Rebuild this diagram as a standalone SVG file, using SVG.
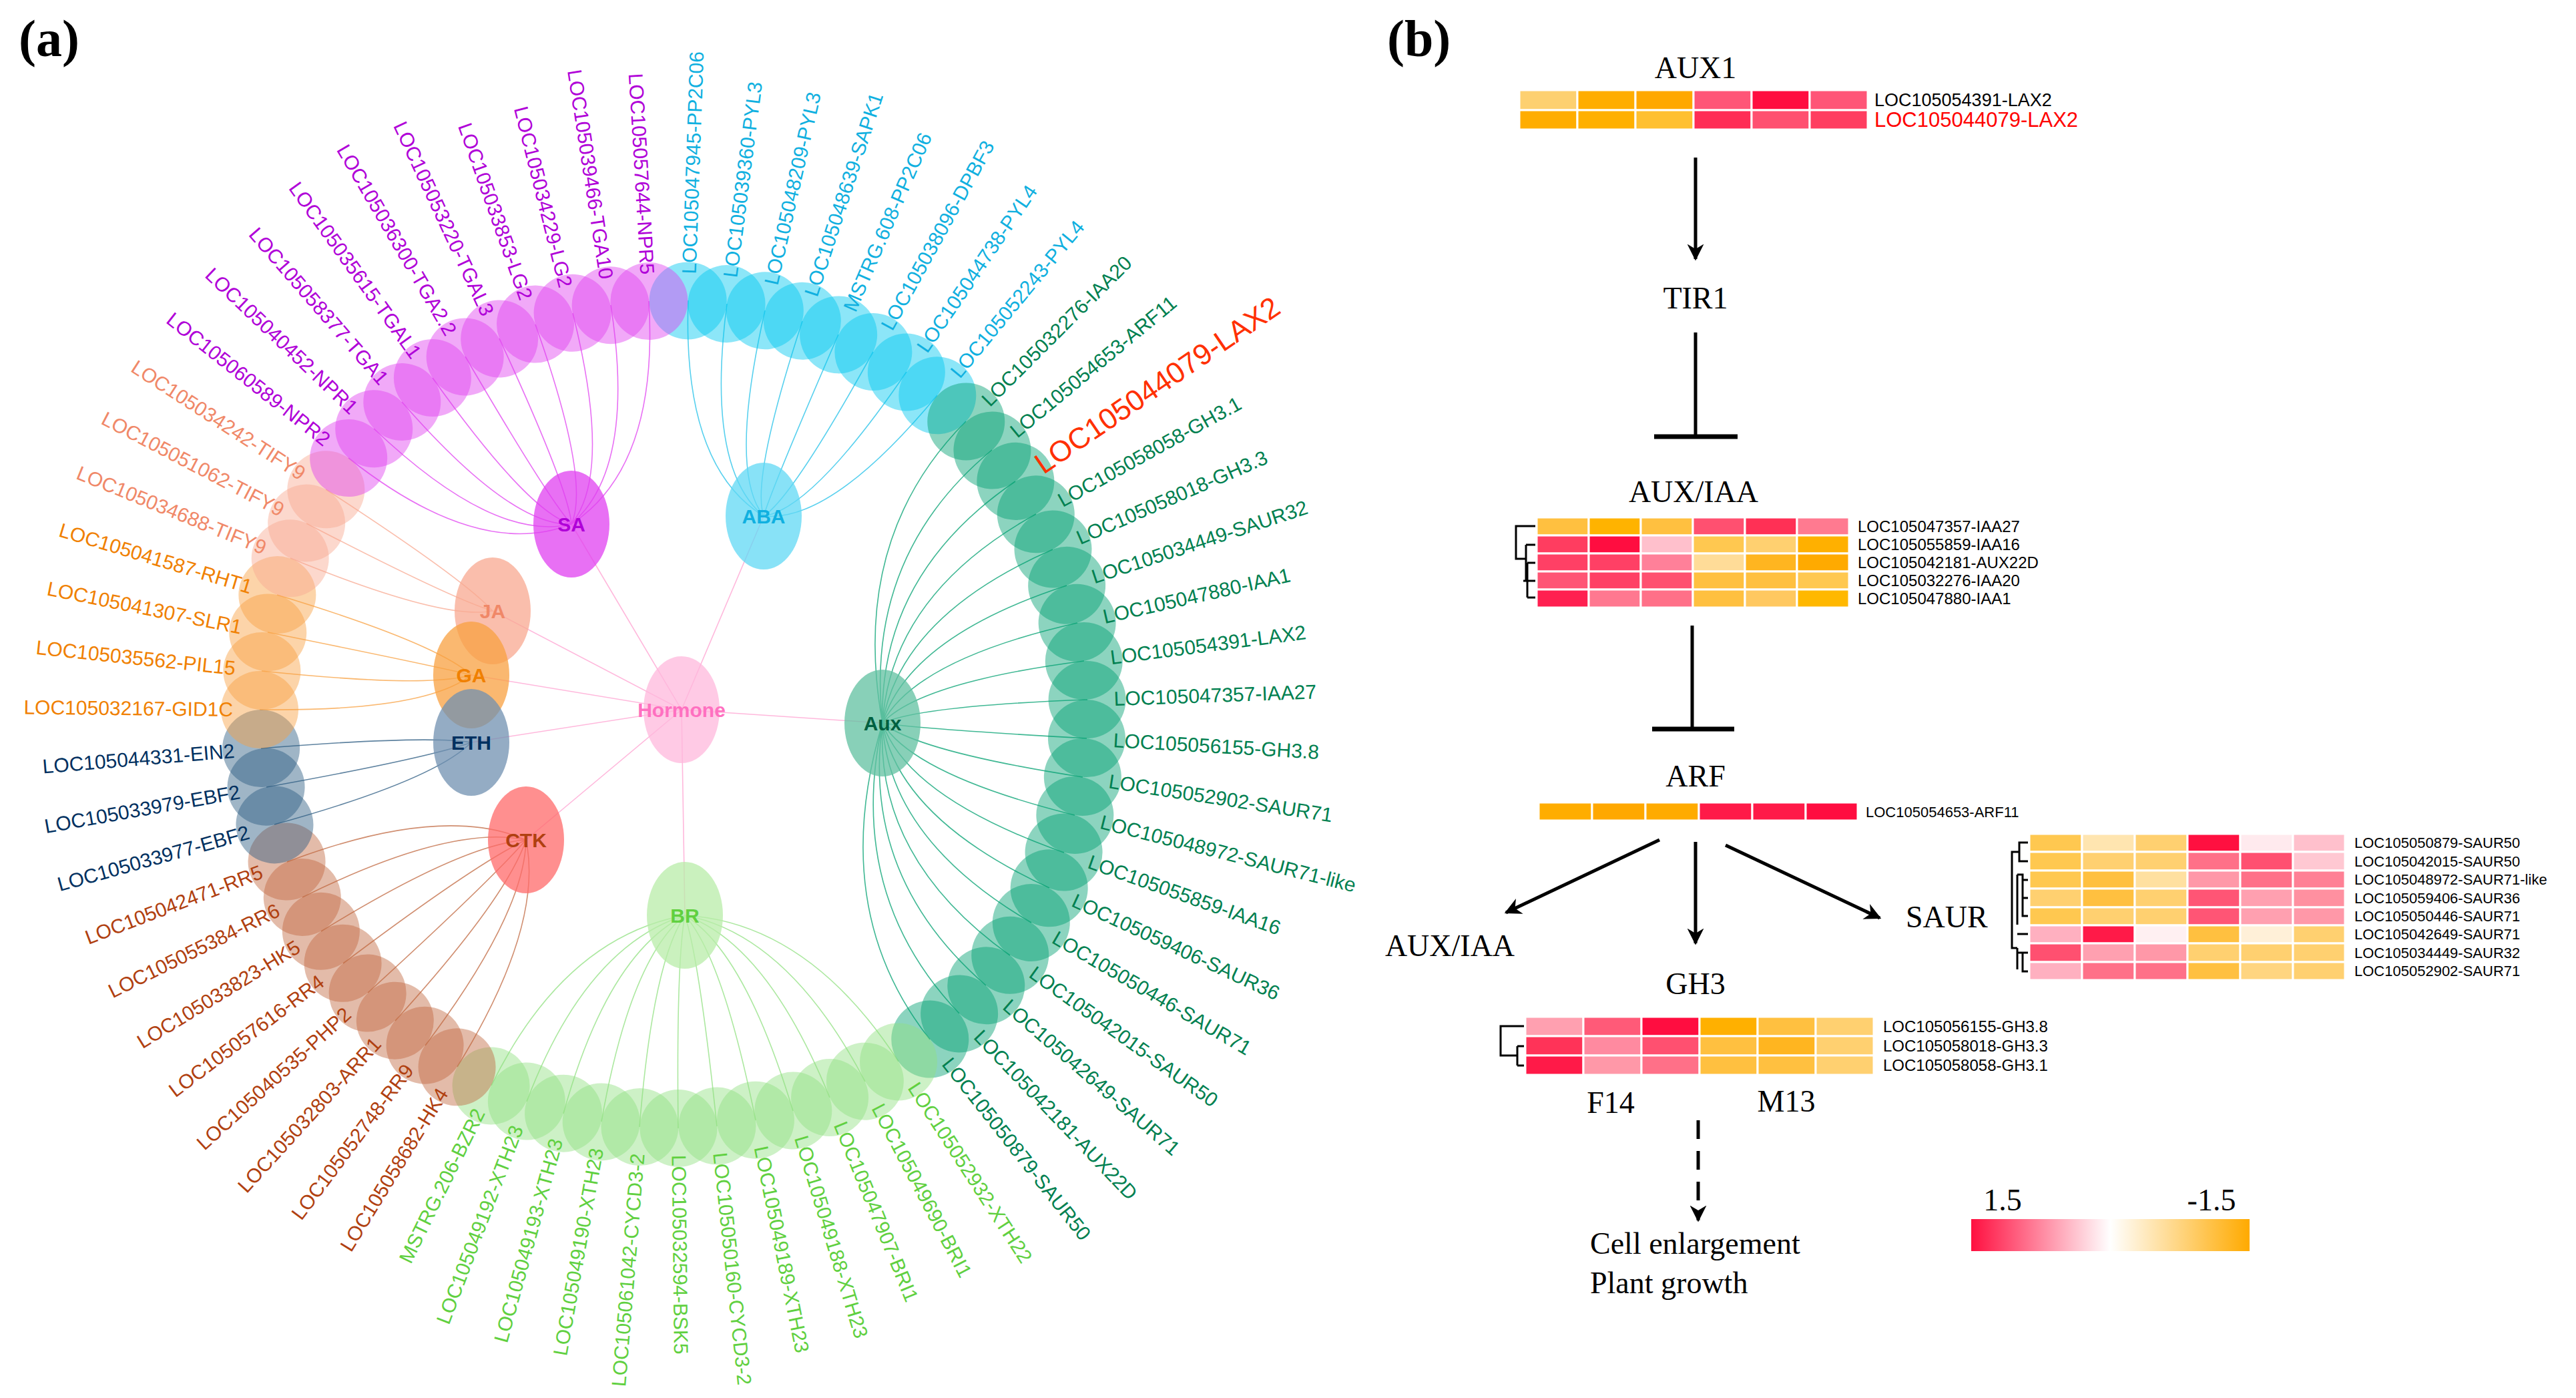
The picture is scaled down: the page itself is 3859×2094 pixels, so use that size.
<svg xmlns="http://www.w3.org/2000/svg" width="3859" height="2094" viewBox="0 0 3859 2094">
<style>
text{font-family:"Liberation Sans",Arial,sans-serif}
.gene text{font-size:30px;dominant-baseline:central}
.gene text.l{text-anchor:end}
.gene ellipse{opacity:0.45}
.hub ellipse{opacity:0.75}
.hub text{font-size:30px;font-weight:bold;text-anchor:middle;dominant-baseline:central}
.aba ellipse{fill:#00c8f0}.aba text{fill:#10b0e0}
.aux ellipse{fill:#00a070}.aux text{fill:#008050}
.br ellipse{fill:#90e080}.br text{fill:#60d040}
.ctk ellipse{fill:#c06840}.ctk text{fill:#b04010}
.eth ellipse{fill:#2a5a80}.eth text{fill:#003060}
.ga ellipse{fill:#f8a040}.ga text{fill:#f08000}
.ja ellipse{fill:#f8a890}.ja text{fill:#f08868}
.sa ellipse{fill:#e040f0}.sa text{fill:#b000d8}
.hm ellipse{fill:#ffb8dc}.hm text{fill:#ff70c0}
#edges path{fill:none;stroke-width:1.6;opacity:0.75}
.e-aba{stroke:#20c0e8}.e-aux{stroke:#00a070}.e-br{stroke:#90e080}.e-ctk{stroke:#c06840}.e-eth{stroke:#2a5a80}.e-ga{stroke:#f8a040}.e-ja{stroke:#f8a890}.e-sa{stroke:#e040f0}.e-hm{stroke:#ffa0d0}
.ser{font-family:"Liberation Serif","Times New Roman",serif;font-size:46px;fill:#000}
.cap{font-family:"Liberation Serif","Times New Roman",serif;font-size:78px;font-weight:bold}
.hm-cells rect{stroke:#fff;stroke-width:3}
.lab{font-size:24px;fill:#000}
.lab2{font-size:22px;fill:#000}
.arr{stroke:#000;stroke-width:5;fill:none}
</style>
<defs>
<marker id="ah" viewBox="0 0 10 10" refX="9" refY="5" markerWidth="5" markerHeight="5" orient="auto"><path d="M0,0 L10,5 L0,10 L3,5 z" fill="#000"/></marker>
<linearGradient id="lg" x1="0" x2="1" y1="0" y2="0"><stop offset="0" stop-color="#ff1040"/><stop offset="0.5" stop-color="#ffffff"/><stop offset="1" stop-color="#ffaa00"/></linearGradient>
</defs>
<rect width="3859" height="2094" fill="#fff"/>
<text class="cap" x="28" y="84">(a)</text>
<text class="cap" x="2078" y="84">(b)</text>

<g id="edges">
<path class="e-hm" d="M1021 1063L856 785M1021 1063L1144 773M1021 1063L738 915M1021 1063L706 1011M1021 1063L706 1112M1021 1063L1322 1083M1021 1063L788 1258M1021 1063L1026 1371"/>
<path class="e-aba" d="M1031 450Q1022 698 1144 773M1089 455Q1057 701 1144 773M1146 465Q1091 707 1144 773M1202 481Q1125 717 1144 773M1256 501Q1157 729 1144 773M1308 527Q1188 744 1144 773M1358 557Q1218 762 1144 773M1404 592Q1246 783 1144 773"/>
<path class="e-aux" d="M1447 631Q1272 807 1322 1083M1486 674Q1295 832 1322 1083M1521 721Q1316 861 1322 1083M1552 770Q1335 890 1322 1083M1577 823Q1350 922 1322 1083M1598 877Q1362 954 1322 1083M1614 933Q1372 988 1322 1083M1624 990Q1378 1022 1322 1083M1629 1048Q1381 1057 1322 1083M1628 1106Q1380 1092 1322 1083M1622 1164Q1377 1126 1322 1083M1610 1221Q1370 1161 1322 1083M1594 1277Q1360 1194 1322 1083M1572 1330Q1347 1226 1322 1083M1545 1382Q1331 1257 1322 1083M1513 1431Q1311 1287 1322 1083M1477 1476Q1290 1314 1322 1083M1437 1518Q1266 1339 1322 1083M1393 1557Q1239 1362 1322 1083"/>
<path class="e-br" d="M1346 1590Q1211 1382 1026 1371M1296 1620Q1181 1400 1026 1371M1243 1644Q1149 1414 1026 1371M1188 1664Q1116 1426 1026 1371M1132 1678Q1083 1435 1026 1371M1074 1687Q1048 1440 1026 1371M1016 1690Q1013 1442 1026 1371M958 1688Q978 1441 1026 1371M901 1680Q944 1436 1026 1371M844 1668Q910 1429 1026 1371M789 1650Q877 1418 1026 1371M736 1626Q845 1404 1026 1371"/>
<path class="e-ctk" d="M685 1598Q815 1387 788 1258M637 1566Q786 1368 788 1258M592 1529Q759 1345 788 1258M551 1487Q734 1320 788 1258M514 1443Q712 1294 788 1258M481 1395Q692 1265 788 1258M453 1344Q675 1234 788 1258M430 1291Q662 1203 788 1258"/>
<path class="e-eth" d="M411 1235Q650 1169 706 1112M399 1179Q643 1135 706 1112M391 1121Q638 1101 706 1112"/>
<path class="e-ga" d="M389 1063Q637 1066 706 1011M392 1005Q639 1031 706 1011M401 947Q644 996 706 1011M415 891Q653 963 706 1011"/>
<path class="e-ja" d="M435 836Q665 930 738 915M459 784Q679 898 738 915M488 733Q696 868 738 915"/>
<path class="e-sa" d="M522 686Q717 840 856 785M560 642Q740 813 856 785M602 602Q765 789 856 785M648 566Q792 768 856 785M697 534Q822 748 856 785M748 507Q852 732 856 785M802 486Q885 720 856 785M858 469Q918 709 856 785M915 457Q953 702 856 785M972 451Q987 699 856 785"/>
</g>

<g id="genes">
<g id="n0" class="gene aba" transform="rotate(-88 1009 1070)"><ellipse cx="1629" cy="1070" rx="58" ry="58"/><text x="1669" y="1070">LOC105047945-PP2C06</text></g>
<g id="n1" class="gene aba" transform="rotate(-82.63 1009 1070)"><ellipse cx="1629" cy="1070" rx="58" ry="58"/><text x="1669" y="1070">LOC105039360-PYL3</text></g>
<g id="n2" class="gene aba" transform="rotate(-77.25 1009 1070)"><ellipse cx="1629" cy="1070" rx="58" ry="58"/><text x="1669" y="1070">LOC105048209-PYL3</text></g>
<g id="n3" class="gene aba" transform="rotate(-71.88 1009 1070)"><ellipse cx="1629" cy="1070" rx="58" ry="58"/><text x="1669" y="1070">LOC105048639-SAPK1</text></g>
<g id="n4" class="gene aba" transform="rotate(-66.51 1009 1070)"><ellipse cx="1629" cy="1070" rx="58" ry="58"/><text x="1669" y="1070">MSTRG.608-PP2C06</text></g>
<g id="n5" class="gene aba" transform="rotate(-61.13 1009 1070)"><ellipse cx="1629" cy="1070" rx="58" ry="58"/><text x="1669" y="1070">LOC105038096-DPBF3</text></g>
<g id="n6" class="gene aba" transform="rotate(-55.76 1009 1070)"><ellipse cx="1629" cy="1070" rx="58" ry="58"/><text x="1669" y="1070">LOC105044738-PYL4</text></g>
<g id="n7" class="gene aba" transform="rotate(-50.39 1009 1070)"><ellipse cx="1629" cy="1070" rx="58" ry="58"/><text x="1669" y="1070">LOC105052243-PYL4</text></g>
<g id="n8" class="gene aux" transform="rotate(-45.02 1009 1070)"><ellipse cx="1629" cy="1070" rx="58" ry="58"/><text x="1669" y="1070">LOC105032276-IAA20</text></g>
<g id="n9" class="gene aux" transform="rotate(-39.64 1009 1070)"><ellipse cx="1629" cy="1070" rx="58" ry="58"/><text x="1669" y="1070">LOC105054653-ARF11</text></g>
<g id="n10" class="gene aux" transform="rotate(-34.27 1009 1070)"><ellipse cx="1629" cy="1070" rx="58" ry="58"/><text x="1669" y="1070" style="font-size:44px;fill:#ff3000">LOC105044079-LAX2</text></g>
<g id="n11" class="gene aux" transform="rotate(-28.90 1009 1070)"><ellipse cx="1629" cy="1070" rx="58" ry="58"/><text x="1669" y="1070">LOC105058058-GH3.1</text></g>
<g id="n12" class="gene aux" transform="rotate(-23.52 1009 1070)"><ellipse cx="1629" cy="1070" rx="58" ry="58"/><text x="1669" y="1070">LOC105058018-GH3.3</text></g>
<g id="n13" class="gene aux" transform="rotate(-18.15 1009 1070)"><ellipse cx="1629" cy="1070" rx="58" ry="58"/><text x="1669" y="1070">LOC105034449-SAUR32</text></g>
<g id="n14" class="gene aux" transform="rotate(-12.78 1009 1070)"><ellipse cx="1629" cy="1070" rx="58" ry="58"/><text x="1669" y="1070">LOC105047880-IAA1</text></g>
<g id="n15" class="gene aux" transform="rotate(-7.41 1009 1070)"><ellipse cx="1629" cy="1070" rx="58" ry="58"/><text x="1669" y="1070">LOC105054391-LAX2</text></g>
<g id="n16" class="gene aux" transform="rotate(-2.03 1009 1070)"><ellipse cx="1629" cy="1070" rx="58" ry="58"/><text x="1669" y="1070">LOC105047357-IAA27</text></g>
<g id="n17" class="gene aux" transform="rotate(3.34 1009 1070)"><ellipse cx="1629" cy="1070" rx="58" ry="58"/><text x="1669" y="1070">LOC105056155-GH3.8</text></g>
<g id="n18" class="gene aux" transform="rotate(8.71 1009 1070)"><ellipse cx="1629" cy="1070" rx="58" ry="58"/><text x="1669" y="1070">LOC105052902-SAUR71</text></g>
<g id="n19" class="gene aux" transform="rotate(14.09 1009 1070)"><ellipse cx="1629" cy="1070" rx="58" ry="58"/><text x="1669" y="1070">LOC105048972-SAUR71-like</text></g>
<g id="n20" class="gene aux" transform="rotate(19.46 1009 1070)"><ellipse cx="1629" cy="1070" rx="58" ry="58"/><text x="1669" y="1070">LOC105055859-IAA16</text></g>
<g id="n21" class="gene aux" transform="rotate(24.83 1009 1070)"><ellipse cx="1629" cy="1070" rx="58" ry="58"/><text x="1669" y="1070">LOC105059406-SAUR36</text></g>
<g id="n22" class="gene aux" transform="rotate(30.21 1009 1070)"><ellipse cx="1629" cy="1070" rx="58" ry="58"/><text x="1669" y="1070">LOC105050446-SAUR71</text></g>
<g id="n23" class="gene aux" transform="rotate(35.58 1009 1070)"><ellipse cx="1629" cy="1070" rx="58" ry="58"/><text x="1669" y="1070">LOC105042015-SAUR50</text></g>
<g id="n24" class="gene aux" transform="rotate(40.95 1009 1070)"><ellipse cx="1629" cy="1070" rx="58" ry="58"/><text x="1669" y="1070">LOC105042649-SAUR71</text></g>
<g id="n25" class="gene aux" transform="rotate(46.33 1009 1070)"><ellipse cx="1629" cy="1070" rx="58" ry="58"/><text x="1669" y="1070">LOC105042181-AUX22D</text></g>
<g id="n26" class="gene aux" transform="rotate(51.70 1009 1070)"><ellipse cx="1629" cy="1070" rx="58" ry="58"/><text x="1669" y="1070">LOC105050879-SAUR50</text></g>
<g id="n27" class="gene br" transform="rotate(57.07 1009 1070)"><ellipse cx="1629" cy="1070" rx="58" ry="58"/><text x="1669" y="1070">LOC105052932-XTH22</text></g>
<g id="n28" class="gene br" transform="rotate(62.44 1009 1070)"><ellipse cx="1629" cy="1070" rx="58" ry="58"/><text x="1669" y="1070">LOC105049690-BRI1</text></g>
<g id="n29" class="gene br" transform="rotate(67.82 1009 1070)"><ellipse cx="1629" cy="1070" rx="58" ry="58"/><text x="1669" y="1070">LOC105047907-BRI1</text></g>
<g id="n30" class="gene br" transform="rotate(73.19 1009 1070)"><ellipse cx="1629" cy="1070" rx="58" ry="58"/><text x="1669" y="1070">LOC105049188-XTH23</text></g>
<g id="n31" class="gene br" transform="rotate(78.56 1009 1070)"><ellipse cx="1629" cy="1070" rx="58" ry="58"/><text x="1669" y="1070">LOC105049189-XTH23</text></g>
<g id="n32" class="gene br" transform="rotate(83.94 1009 1070)"><ellipse cx="1629" cy="1070" rx="58" ry="58"/><text x="1669" y="1070">LOC105050160-CYCD3-2</text></g>
<g id="n33" class="gene br" transform="rotate(89.31 1009 1070)"><ellipse cx="1629" cy="1070" rx="58" ry="58"/><text x="1669" y="1070">LOC105032594-BSK5</text></g>
<g id="n34" class="gene br" transform="rotate(94.68 1009 1070)"><ellipse cx="1629" cy="1070" rx="58" ry="58"/><text class="l" x="1669" y="1070" transform="rotate(180 1669 1070)">LOC105061042-CYCD3-2</text></g>
<g id="n35" class="gene br" transform="rotate(100.06 1009 1070)"><ellipse cx="1629" cy="1070" rx="58" ry="58"/><text class="l" x="1669" y="1070" transform="rotate(180 1669 1070)">LOC105049190-XTH23</text></g>
<g id="n36" class="gene br" transform="rotate(105.43 1009 1070)"><ellipse cx="1629" cy="1070" rx="58" ry="58"/><text class="l" x="1669" y="1070" transform="rotate(180 1669 1070)">LOC105049193-XTH23</text></g>
<g id="n37" class="gene br" transform="rotate(110.80 1009 1070)"><ellipse cx="1629" cy="1070" rx="58" ry="58"/><text class="l" x="1669" y="1070" transform="rotate(180 1669 1070)">LOC105049192-XTH23</text></g>
<g id="n38" class="gene br" transform="rotate(116.17 1009 1070)"><ellipse cx="1629" cy="1070" rx="58" ry="58"/><text class="l" x="1669" y="1070" transform="rotate(180 1669 1070)">MSTRG.206-BZR2</text></g>
<g id="n39" class="gene ctk" transform="rotate(121.55 1009 1070)"><ellipse cx="1629" cy="1070" rx="58" ry="58"/><text class="l" x="1669" y="1070" transform="rotate(180 1669 1070)">LOC105058682-HK4</text></g>
<g id="n40" class="gene ctk" transform="rotate(126.92 1009 1070)"><ellipse cx="1629" cy="1070" rx="58" ry="58"/><text class="l" x="1669" y="1070" transform="rotate(180 1669 1070)">LOC105052748-RR9</text></g>
<g id="n41" class="gene ctk" transform="rotate(132.29 1009 1070)"><ellipse cx="1629" cy="1070" rx="58" ry="58"/><text class="l" x="1669" y="1070" transform="rotate(180 1669 1070)">LOC105032803-ARR1</text></g>
<g id="n42" class="gene ctk" transform="rotate(137.67 1009 1070)"><ellipse cx="1629" cy="1070" rx="58" ry="58"/><text class="l" x="1669" y="1070" transform="rotate(180 1669 1070)">LOC105040535-PHP2</text></g>
<g id="n43" class="gene ctk" transform="rotate(143.04 1009 1070)"><ellipse cx="1629" cy="1070" rx="58" ry="58"/><text class="l" x="1669" y="1070" transform="rotate(180 1669 1070)">LOC105057616-RR4</text></g>
<g id="n44" class="gene ctk" transform="rotate(148.41 1009 1070)"><ellipse cx="1629" cy="1070" rx="58" ry="58"/><text class="l" x="1669" y="1070" transform="rotate(180 1669 1070)">LOC105033823-HK5</text></g>
<g id="n45" class="gene ctk" transform="rotate(153.78 1009 1070)"><ellipse cx="1629" cy="1070" rx="58" ry="58"/><text class="l" x="1669" y="1070" transform="rotate(180 1669 1070)">LOC105055384-RR6</text></g>
<g id="n46" class="gene ctk" transform="rotate(159.16 1009 1070)"><ellipse cx="1629" cy="1070" rx="58" ry="58"/><text class="l" x="1669" y="1070" transform="rotate(180 1669 1070)">LOC105042471-RR5</text></g>
<g id="n47" class="gene eth" transform="rotate(164.53 1009 1070)"><ellipse cx="1629" cy="1070" rx="58" ry="58"/><text class="l" x="1669" y="1070" transform="rotate(180 1669 1070)">LOC105033977-EBF2</text></g>
<g id="n48" class="gene eth" transform="rotate(169.90 1009 1070)"><ellipse cx="1629" cy="1070" rx="58" ry="58"/><text class="l" x="1669" y="1070" transform="rotate(180 1669 1070)">LOC105033979-EBF2</text></g>
<g id="n49" class="gene eth" transform="rotate(175.28 1009 1070)"><ellipse cx="1629" cy="1070" rx="58" ry="58"/><text class="l" x="1669" y="1070" transform="rotate(180 1669 1070)">LOC105044331-EIN2</text></g>
<g id="n50" class="gene ga" transform="rotate(180.65 1009 1070)"><ellipse cx="1629" cy="1070" rx="58" ry="58"/><text class="l" x="1669" y="1070" transform="rotate(180 1669 1070)">LOC105032167-GID1C</text></g>
<g id="n51" class="gene ga" transform="rotate(186.02 1009 1070)"><ellipse cx="1629" cy="1070" rx="58" ry="58"/><text class="l" x="1669" y="1070" transform="rotate(180 1669 1070)">LOC105035562-PIL15</text></g>
<g id="n52" class="gene ga" transform="rotate(191.40 1009 1070)"><ellipse cx="1629" cy="1070" rx="58" ry="58"/><text class="l" x="1669" y="1070" transform="rotate(180 1669 1070)">LOC105041307-SLR1</text></g>
<g id="n53" class="gene ga" transform="rotate(196.77 1009 1070)"><ellipse cx="1629" cy="1070" rx="58" ry="58"/><text class="l" x="1669" y="1070" transform="rotate(180 1669 1070)">LOC105041587-RHT1</text></g>
<g id="n54" class="gene ja" transform="rotate(202.14 1009 1070)"><ellipse cx="1629" cy="1070" rx="58" ry="58"/><text class="l" x="1669" y="1070" transform="rotate(180 1669 1070)">LOC105034688-TIFY9</text></g>
<g id="n55" class="gene ja" transform="rotate(207.52 1009 1070)"><ellipse cx="1629" cy="1070" rx="58" ry="58"/><text class="l" x="1669" y="1070" transform="rotate(180 1669 1070)">LOC105051062-TIFY9</text></g>
<g id="n56" class="gene ja" transform="rotate(212.89 1009 1070)"><ellipse cx="1629" cy="1070" rx="58" ry="58"/><text class="l" x="1669" y="1070" transform="rotate(180 1669 1070)">LOC105034242-TIFY9</text></g>
<g id="n57" class="gene sa" transform="rotate(218.26 1009 1070)"><ellipse cx="1629" cy="1070" rx="58" ry="58"/><text class="l" x="1669" y="1070" transform="rotate(180 1669 1070)">LOC105060589-NPR2</text></g>
<g id="n58" class="gene sa" transform="rotate(223.63 1009 1070)"><ellipse cx="1629" cy="1070" rx="58" ry="58"/><text class="l" x="1669" y="1070" transform="rotate(180 1669 1070)">LOC105040452-NPR1</text></g>
<g id="n59" class="gene sa" transform="rotate(229.01 1009 1070)"><ellipse cx="1629" cy="1070" rx="58" ry="58"/><text class="l" x="1669" y="1070" transform="rotate(180 1669 1070)">LOC105058377-TGA1</text></g>
<g id="n60" class="gene sa" transform="rotate(234.38 1009 1070)"><ellipse cx="1629" cy="1070" rx="58" ry="58"/><text class="l" x="1669" y="1070" transform="rotate(180 1669 1070)">LOC105035615-TGAL1</text></g>
<g id="n61" class="gene sa" transform="rotate(239.75 1009 1070)"><ellipse cx="1629" cy="1070" rx="58" ry="58"/><text class="l" x="1669" y="1070" transform="rotate(180 1669 1070)">LOC105036300-TGA2.2</text></g>
<g id="n62" class="gene sa" transform="rotate(245.13 1009 1070)"><ellipse cx="1629" cy="1070" rx="58" ry="58"/><text class="l" x="1669" y="1070" transform="rotate(180 1669 1070)">LOC105053220-TGAL3</text></g>
<g id="n63" class="gene sa" transform="rotate(250.50 1009 1070)"><ellipse cx="1629" cy="1070" rx="58" ry="58"/><text class="l" x="1669" y="1070" transform="rotate(180 1669 1070)">LOC105033853-LG2</text></g>
<g id="n64" class="gene sa" transform="rotate(255.87 1009 1070)"><ellipse cx="1629" cy="1070" rx="58" ry="58"/><text class="l" x="1669" y="1070" transform="rotate(180 1669 1070)">LOC105034229-LG2</text></g>
<g id="n65" class="gene sa" transform="rotate(261.25 1009 1070)"><ellipse cx="1629" cy="1070" rx="58" ry="58"/><text class="l" x="1669" y="1070" transform="rotate(180 1669 1070)">LOC105039466-TGA10</text></g>
<g id="n66" class="gene sa" transform="rotate(266.62 1009 1070)"><ellipse cx="1629" cy="1070" rx="58" ry="58"/><text class="l" x="1669" y="1070" transform="rotate(180 1669 1070)">LOC105057644-NPR5</text></g>
</g>

<g id="hubs">
<g id="SA" class="hub sa"><ellipse cx="856" cy="785" rx="57" ry="80"/><text x="856" y="785">SA</text></g>
<g id="ABA" class="hub aba"><ellipse cx="1144" cy="773" rx="57" ry="80" style="fill:#60d8f4"/><text x="1144" y="773">ABA</text></g>
<g id="JA" class="hub ja"><ellipse cx="738" cy="915" rx="57" ry="80"/><text x="738" y="915">JA</text></g>
<g id="GA" class="hub ga"><ellipse cx="706" cy="1011" rx="57" ry="80"/><text x="706" y="1011">GA</text></g>
<g id="ETH" class="hub eth"><ellipse cx="706" cy="1112" rx="57" ry="80" style="fill:#7090b0"/><text x="706" y="1112">ETH</text></g>
<g id="Hormone" class="hub hm"><ellipse cx="1021" cy="1063" rx="57" ry="80"/><text x="1021" y="1063">Hormone</text></g>
<g id="Aux" class="hub aux"><ellipse cx="1322" cy="1083" rx="57" ry="80" style="fill:#60c0a0"/><text x="1322" y="1083" style="fill:#006040">Aux</text></g>
<g id="CTK" class="hub ctk"><ellipse cx="788" cy="1258" rx="57" ry="80" style="fill:#ff6a6a"/><text x="788" y="1258">CTK</text></g>
<g id="BR" class="hub br"><ellipse cx="1026" cy="1371" rx="57" ry="80" style="fill:#b8eca8"/><text x="1026" y="1371">BR</text></g>
</g>

<g id="panel-b">
<g id="AUX1"><text class="ser" x="2540" y="117" text-anchor="middle">AUX1</text>
<g class="hm-cells">
<rect x="2276" y="135" width="87" height="30" fill="#fdd070"/><rect x="2363" y="135" width="87" height="30" fill="#ffad00"/><rect x="2450" y="135" width="87" height="30" fill="#ffa800"/><rect x="2537" y="135" width="87" height="30" fill="#ff5577"/><rect x="2624" y="135" width="87" height="30" fill="#ff0d40"/><rect x="2711" y="135" width="87" height="30" fill="#ff5577"/>
<rect x="2276" y="165" width="87" height="29" fill="#ffad00"/><rect x="2363" y="165" width="87" height="29" fill="#ffb000"/><rect x="2450" y="165" width="87" height="29" fill="#ffc030"/><rect x="2537" y="165" width="87" height="29" fill="#ff2d55"/><rect x="2624" y="165" width="87" height="29" fill="#ff5070"/><rect x="2711" y="165" width="87" height="29" fill="#ff3d60"/>
</g>
<text x="2808" y="159" style="font-size:27px">LOC105054391-LAX2</text>
<text x="2808" y="190" style="font-size:31px;fill:#ff0000">LOC105044079-LAX2</text>
</g>
<g id="TIR1"><text class="ser" x="2540" y="462" text-anchor="middle">TIR1</text></g>
<g id="AUXIAA"><text class="ser" x="2537" y="752" text-anchor="middle">AUX/IAA</text>
<g class="hm-cells">
<rect x="2302" y="775" width="78" height="27" fill="#ffc040"/><rect x="2380" y="775" width="78" height="27" fill="#ffb300"/><rect x="2458" y="775" width="78" height="27" fill="#ffc040"/><rect x="2536" y="775" width="78" height="27" fill="#ff5070"/><rect x="2614" y="775" width="78" height="27" fill="#ff3055"/><rect x="2692" y="775" width="78" height="27" fill="#ff7a90"/>
<rect x="2302" y="802" width="78" height="27" fill="#ff3d60"/><rect x="2380" y="802" width="78" height="27" fill="#ff0d40"/><rect x="2458" y="802" width="78" height="27" fill="#ffc0cc"/><rect x="2536" y="802" width="78" height="27" fill="#ffc850"/><rect x="2614" y="802" width="78" height="27" fill="#ffd070"/><rect x="2692" y="802" width="78" height="27" fill="#ffb000"/>
<rect x="2302" y="829" width="78" height="27" fill="#ff4065"/><rect x="2380" y="829" width="78" height="27" fill="#ff4065"/><rect x="2458" y="829" width="78" height="27" fill="#ff8099"/><rect x="2536" y="829" width="78" height="27" fill="#ffdc98"/><rect x="2614" y="829" width="78" height="27" fill="#ffb520"/><rect x="2692" y="829" width="78" height="27" fill="#ffaa00"/>
<rect x="2302" y="856" width="78" height="27" fill="#ff5575"/><rect x="2380" y="856" width="78" height="27" fill="#ff4065"/><rect x="2458" y="856" width="78" height="27" fill="#ff5070"/><rect x="2536" y="856" width="78" height="27" fill="#ffc040"/><rect x="2614" y="856" width="78" height="27" fill="#ffc040"/><rect x="2692" y="856" width="78" height="27" fill="#ffc850"/>
<rect x="2302" y="883" width="78" height="27" fill="#ff2050"/><rect x="2380" y="883" width="78" height="27" fill="#ff7890"/><rect x="2458" y="883" width="78" height="27" fill="#ff7088"/><rect x="2536" y="883" width="78" height="27" fill="#ffc040"/><rect x="2614" y="883" width="78" height="27" fill="#ffc860"/><rect x="2692" y="883" width="78" height="27" fill="#ffb800"/>
</g>
<path d="M2300 788H2271V837H2286M2286 816H2300M2286 816V870M2282 870H2300M2288 895V843M2288 895H2300M2288 843H2300" stroke="#000" stroke-width="3" fill="none"/>
<text class="lab" x="2783" y="797">LOC105047357-IAA27</text>
<text class="lab" x="2783" y="824">LOC105055859-IAA16</text>
<text class="lab" x="2783" y="851">LOC105042181-AUX22D</text>
<text class="lab" x="2783" y="878">LOC105032276-IAA20</text>
<text class="lab" x="2783" y="905">LOC105047880-IAA1</text>
</g>
<g id="ARF"><text class="ser" x="2540" y="1178" text-anchor="middle">ARF</text>
<g class="hm-cells">
<rect x="2305" y="1202" width="80" height="27" fill="#ffad00"/><rect x="2385" y="1202" width="80" height="27" fill="#ffa800"/><rect x="2465" y="1202" width="80" height="27" fill="#ffab00"/><rect x="2545" y="1202" width="80" height="27" fill="#ff1a48"/><rect x="2625" y="1202" width="80" height="27" fill="#ff1a48"/><rect x="2705" y="1202" width="78" height="27" fill="#ff0d40"/>
</g>
<text class="lab2" x="2795" y="1224">LOC105054653-ARF11</text>
</g>
<g id="AUXIAA2"><text class="ser" x="2172" y="1432" text-anchor="middle">AUX/IAA</text></g>
<g id="SAUR"><text class="ser" x="2855" y="1389">SAUR</text>
<g class="hm-cells">
<rect x="3040" y="1249" width="79" height="27" fill="#ffc850"/><rect x="3119" y="1249" width="79" height="27" fill="#ffe5b0"/><rect x="3198" y="1249" width="79" height="27" fill="#ffd070"/><rect x="3277" y="1249" width="79" height="27" fill="#ff1040"/><rect x="3356" y="1249" width="79" height="27" fill="#ffeaee"/><rect x="3435" y="1249" width="78" height="27" fill="#ffc0cc"/>
<rect x="3040" y="1276" width="79" height="28" fill="#ffc850"/><rect x="3119" y="1276" width="79" height="28" fill="#ffd070"/><rect x="3198" y="1276" width="79" height="28" fill="#ffd070"/><rect x="3277" y="1276" width="79" height="28" fill="#ff7088"/><rect x="3356" y="1276" width="79" height="28" fill="#ff5070"/><rect x="3435" y="1276" width="78" height="28" fill="#ffc8d2"/>
<rect x="3040" y="1304" width="79" height="27" fill="#ffc850"/><rect x="3119" y="1304" width="79" height="27" fill="#ffc040"/><rect x="3198" y="1304" width="79" height="27" fill="#ffe0a0"/><rect x="3277" y="1304" width="79" height="27" fill="#ff98a8"/><rect x="3356" y="1304" width="79" height="27" fill="#ff7088"/><rect x="3435" y="1304" width="78" height="27" fill="#ff8095"/>
<rect x="3040" y="1331" width="79" height="28" fill="#ffd070"/><rect x="3119" y="1331" width="79" height="28" fill="#ffc040"/><rect x="3198" y="1331" width="79" height="28" fill="#ffd070"/><rect x="3277" y="1331" width="79" height="28" fill="#ff5575"/><rect x="3356" y="1331" width="79" height="28" fill="#ffa0b0"/><rect x="3435" y="1331" width="78" height="28" fill="#ff90a0"/>
<rect x="3040" y="1359" width="79" height="27" fill="#ffc850"/><rect x="3119" y="1359" width="79" height="27" fill="#ffd070"/><rect x="3198" y="1359" width="79" height="27" fill="#ffd070"/><rect x="3277" y="1359" width="79" height="27" fill="#ff5575"/><rect x="3356" y="1359" width="79" height="27" fill="#ffa0b0"/><rect x="3435" y="1359" width="78" height="27" fill="#ff98a8"/>
<rect x="3040" y="1386" width="79" height="27" fill="#ffb0c0"/><rect x="3119" y="1386" width="79" height="27" fill="#ff1a48"/><rect x="3198" y="1386" width="79" height="27" fill="#fff0f2"/><rect x="3277" y="1386" width="79" height="27" fill="#ffc040"/><rect x="3356" y="1386" width="79" height="27" fill="#fff0d8"/><rect x="3435" y="1386" width="78" height="27" fill="#ffd070"/>
<rect x="3040" y="1413" width="79" height="28" fill="#ff5070"/><rect x="3119" y="1413" width="79" height="28" fill="#ffa0b0"/><rect x="3198" y="1413" width="79" height="28" fill="#ff98a8"/><rect x="3277" y="1413" width="79" height="28" fill="#ffd070"/><rect x="3356" y="1413" width="79" height="28" fill="#ffd070"/><rect x="3435" y="1413" width="78" height="28" fill="#ffd070"/>
<rect x="3040" y="1441" width="79" height="27" fill="#ffb0c0"/><rect x="3119" y="1441" width="79" height="27" fill="#ff7088"/><rect x="3198" y="1441" width="79" height="27" fill="#ff7088"/><rect x="3277" y="1441" width="79" height="27" fill="#ffc040"/><rect x="3356" y="1441" width="79" height="27" fill="#ffd580"/><rect x="3435" y="1441" width="78" height="27" fill="#ffd070"/>
</g>
<path d="M3038 1262H3025V1290H3038M3025 1276H3014V1420H3022M3022 1310V1385M3022 1310H3030V1372H3038M3030 1345H3038M3030 1318H3038M3022 1399H3038M3022 1420V1452M3022 1427H3030V1455H3038M3030 1427H3038" stroke="#000" stroke-width="3" fill="none"/>
<text class="lab2" x="3527" y="1270">LOC105050879-SAUR50</text>
<text class="lab2" x="3527" y="1298">LOC105042015-SAUR50</text>
<text class="lab2" x="3527" y="1325">LOC105048972-SAUR71-like</text>
<text class="lab2" x="3527" y="1353">LOC105059406-SAUR36</text>
<text class="lab2" x="3527" y="1380">LOC105050446-SAUR71</text>
<text class="lab2" x="3527" y="1407">LOC105042649-SAUR71</text>
<text class="lab2" x="3527" y="1435">LOC105034449-SAUR32</text>
<text class="lab2" x="3527" y="1462">LOC105052902-SAUR71</text>
</g>
<g id="GH3"><text class="ser" x="2540" y="1489" text-anchor="middle">GH3</text>
<g class="hm-cells">
<rect x="2285" y="1523" width="87" height="29" fill="#ffa0b0"/><rect x="2372" y="1523" width="87" height="29" fill="#ff5a78"/><rect x="2459" y="1523" width="87" height="29" fill="#ff0d40"/><rect x="2546" y="1523" width="87" height="29" fill="#ffb000"/><rect x="2633" y="1523" width="87" height="29" fill="#ffc040"/><rect x="2720" y="1523" width="87" height="29" fill="#ffd070"/>
<rect x="2285" y="1552" width="87" height="29" fill="#ff3358"/><rect x="2372" y="1552" width="87" height="29" fill="#ff8aa0"/><rect x="2459" y="1552" width="87" height="29" fill="#ff5070"/><rect x="2546" y="1552" width="87" height="29" fill="#ffc040"/><rect x="2633" y="1552" width="87" height="29" fill="#ffb520"/><rect x="2720" y="1552" width="87" height="29" fill="#ffd070"/>
<rect x="2285" y="1581" width="87" height="29" fill="#ff1a48"/><rect x="2372" y="1581" width="87" height="29" fill="#ff98a8"/><rect x="2459" y="1581" width="87" height="29" fill="#ff7088"/><rect x="2546" y="1581" width="87" height="29" fill="#ffc040"/><rect x="2633" y="1581" width="87" height="29" fill="#ffc040"/><rect x="2720" y="1581" width="87" height="29" fill="#ffd070"/>
</g>
<path d="M2283 1537H2248V1581H2273M2273 1567V1596M2273 1567H2283M2273 1596H2283" stroke="#000" stroke-width="3" fill="none"/>
<text class="lab" x="2821" y="1546">LOC105056155-GH3.8</text>
<text class="lab" x="2821" y="1575">LOC105058018-GH3.3</text>
<text class="lab" x="2821" y="1604">LOC105058058-GH3.1</text>
</g>
<text class="ser" x="2413" y="1667" text-anchor="middle">F14</text>
<text class="ser" x="2676" y="1665" text-anchor="middle">M13</text>
<text class="ser" x="2382" y="1878">Cell enlargement</text>
<text class="ser" x="2382" y="1937">Plant growth</text>
<g id="legend">
<rect x="2953" y="1826" width="417" height="48" fill="url(#lg)"/>
<text class="ser" x="3000" y="1813" text-anchor="middle">1.5</text>
<text class="ser" x="3313" y="1813" text-anchor="middle">-1.5</text>
</g>
</g>

<g id="connectors">
<line class="arr" x1="2540" y1="236" x2="2540" y2="388" marker-end="url(#ah)"/>
<line class="arr" x1="2540" y1="498" x2="2540" y2="654"/>
<line x1="2478" y1="654" x2="2603" y2="654" stroke="#000" stroke-width="7"/>
<line class="arr" x1="2535" y1="937" x2="2535" y2="1092"/>
<line x1="2475" y1="1092" x2="2598" y2="1092" stroke="#000" stroke-width="7"/>
<line class="arr" x1="2486" y1="1258" x2="2256" y2="1367" marker-end="url(#ah)"/>
<line class="arr" x1="2540" y1="1261" x2="2540" y2="1413" marker-end="url(#ah)"/>
<line class="arr" x1="2585" y1="1266" x2="2816" y2="1375" marker-end="url(#ah)"/>
<line class="arr" x1="2544" y1="1678" x2="2544" y2="1828" stroke-dasharray="28 18" marker-end="url(#ah)"/>
</g>
</svg>
